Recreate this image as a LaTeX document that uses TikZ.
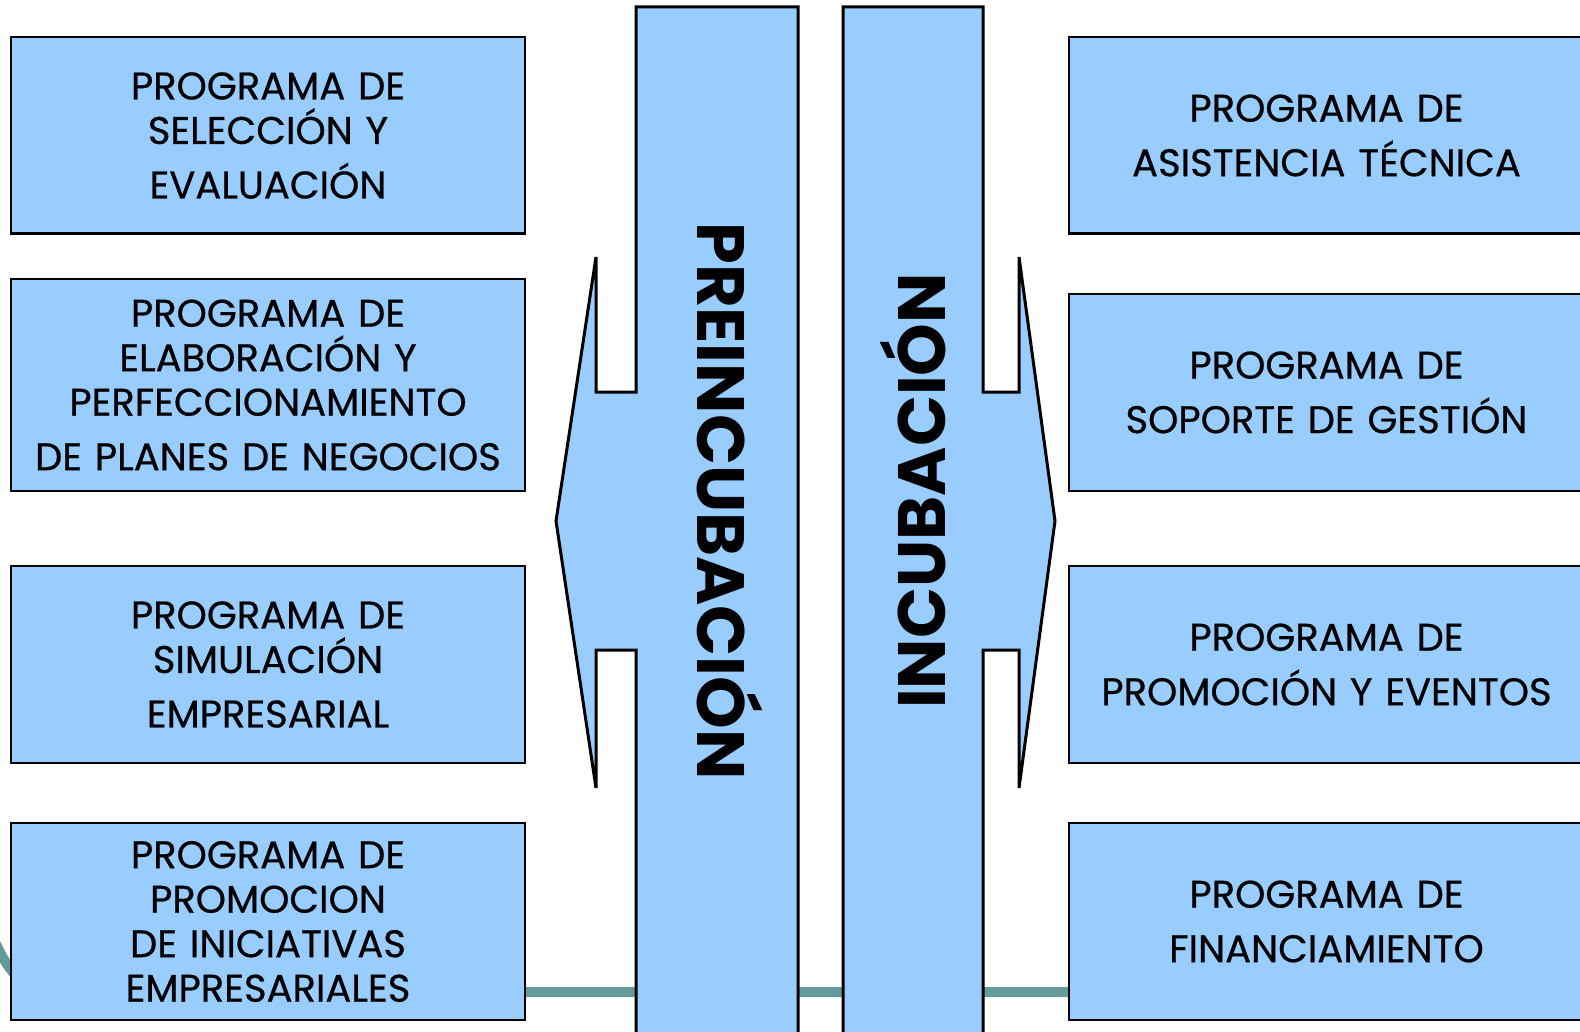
\documentclass[tikz,border=0pt]{standalone}
\usepackage{fontspec}
\setmainfont{Poppins}
\newfontfamily\progfont[FakeBold=0.6,WordSpace=1.5]{Poppins}
\usepackage{tikz}
\definecolor{celeste}{HTML}{99CCFF}
\definecolor{verdoso}{HTML}{669999}
\tikzstyle{prog} = [rectangle,draw,line width=2.5pt,fill=celeste,inner sep=0pt,
  align=center,font=\progfont\fontsize{38.5}{44.5}\selectfont]
\tikzstyle{flecha} = [draw,line width=3pt,fill=celeste,line join=miter]
\tikzstyle{etapa} = [inner sep=0pt,font=\fontsize{67}{67}\selectfont\bfseries]

\begin{document}
\begin{tikzpicture}[x=1pt,y=-1pt]
\clip (0,0) rectangle (1580,1032);

% linea de fondo
\draw[verdoso,line width=10pt] (-6,940) .. controls (10,975) and (25,992) .. (60,992) -- (1590,992);

% flechas de las etapas
\path[flecha] (636,1045) -- (636,650) -- (596,650) -- (596,788) -- (556,521)
  -- (596,257) -- (596,392) -- (636,392) -- (636,7) -- (798,7) -- (798,1045);
\path[flecha] (843,1045) -- (843,7) -- (983,7) -- (983,392) -- (1019,392)
  -- (1019,257) -- (1055,521) -- (1019,788) -- (1019,650) -- (983,650) -- (983,1045);
\node[etapa,rotate=-90] (pre) at (730,501) {PREINCUBACIÓN};
\node[etapa,rotate=90] (inc) at (913,491) {INCUBACIÓN};

% programas de preincubacion
\node[prog,minimum width=514pt,minimum height=196.5pt,text width=510pt] (sel) at (268,135.5)
  {PROGRAMA DE\\ SELECCIÓN Y\\[10pt] EVALUACIÓN};
\node[prog,minimum width=514pt,minimum height=212pt,text width=510pt] (ela) at (268,385)
  {PROGRAMA DE\\ ELABORACIÓN Y\\ PERFECCIONAMIENTO\\[10pt] DE PLANES DE NEGOCIOS};
\node[prog,minimum width=514pt,minimum height=197pt,text width=510pt] (sim) at (268,664.5)
  {PROGRAMA DE\\ SIMULACIÓN\\[10pt] EMPRESARIAL};
\node[prog,minimum width=514pt,minimum height=197pt,text width=510pt] (ini) at (268,921.5)
  {PROGRAMA DE\\ PROMOCION\\ DE INICIATIVAS\\ EMPRESARIALES};

% programas de incubacion
\node[prog,minimum width=515pt,minimum height=196.5pt,text width=511pt] (asi) at (1326.5,135.5)
  {PROGRAMA DE\\[10pt] ASISTENCIA TÉCNICA};
\node[prog,minimum width=515pt,minimum height=196.7pt,text width=511pt] (sop) at (1326.5,392.4)
  {PROGRAMA DE\\[10pt] SOPORTE DE GESTIÓN};
\node[prog,minimum width=515pt,minimum height=197pt,text width=511pt] (eve) at (1326.5,664.5)
  {PROGRAMA DE\\[10pt] PROMOCIÓN Y EVENTOS};
\node[prog,minimum width=515pt,minimum height=197pt,text width=511pt] (fin) at (1326.5,921.5)
  {PROGRAMA DE\\[10pt] FINANCIAMIENTO};
\end{tikzpicture}
\end{document}
